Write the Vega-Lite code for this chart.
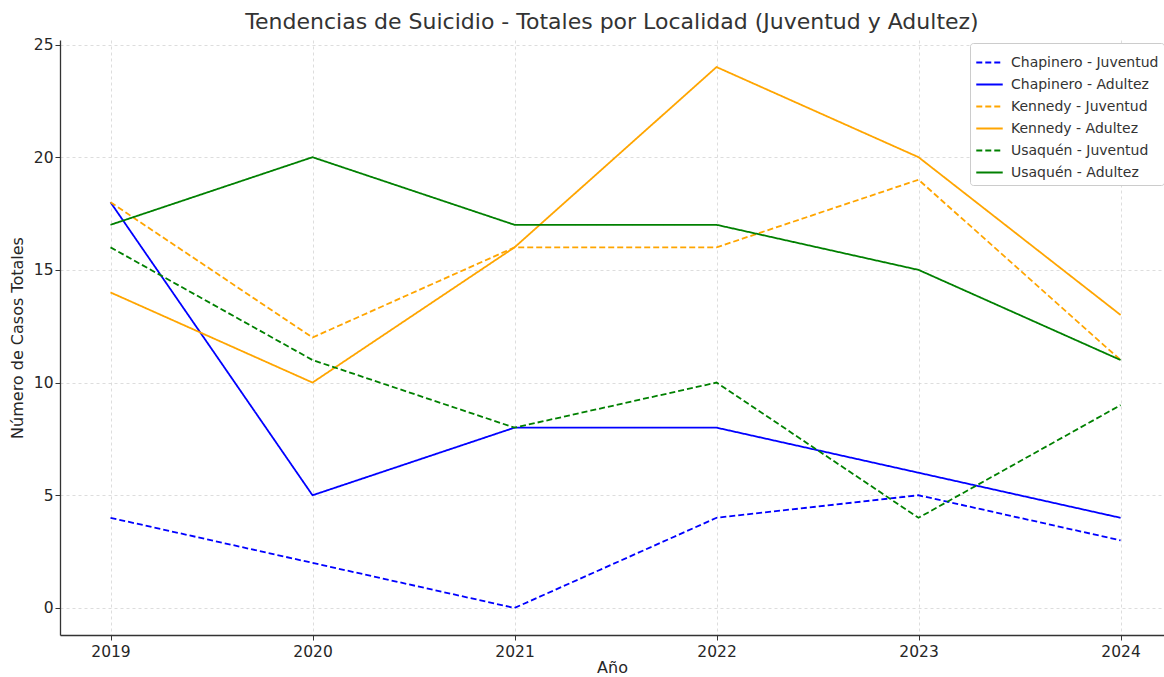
{
  "$schema": "https://vega.github.io/schema/vega-lite/v6.json",
  "width": 1104,
  "height": 595,
  "autosize": {"type": "none"},
  "padding": {"left": 60, "top": 40, "right": 0, "bottom": 42},
  "background": "white",
  "title": {"text": "Tendencias de Suicidio - Totales por Localidad (Juventud y Adultez)", "font": "DejaVu Sans", "fontSize": 22, "fontWeight": "normal", "color": "#333333", "offset": 4, "anchor": "middle"},
  "config": {
    "font": "DejaVu Sans",
    "view": {"stroke": null},
    "axis": {"labelFont": "DejaVu Sans", "titleFont": "DejaVu Sans", "labelFontSize": 15.5, "titleFontSize": 16, "titleFontWeight": "normal", "labelColor": "#262626", "titleColor": "#262626", "domainColor": "#333333", "domainWidth": 1.3, "tickColor": "#333333", "tickSize": 5, "gridColor": "#d4d4d4", "gridDash": [3, 3], "gridWidth": 0.8}
  },
  "data": {"values": [
    {"anio": 2019, "serie": "Chapinero - Juventud", "casos": 4},
    {"anio": 2020, "serie": "Chapinero - Juventud", "casos": 2},
    {"anio": 2021, "serie": "Chapinero - Juventud", "casos": 0},
    {"anio": 2022, "serie": "Chapinero - Juventud", "casos": 4},
    {"anio": 2023, "serie": "Chapinero - Juventud", "casos": 5},
    {"anio": 2024, "serie": "Chapinero - Juventud", "casos": 3},
    {"anio": 2019, "serie": "Chapinero - Adultez", "casos": 18},
    {"anio": 2020, "serie": "Chapinero - Adultez", "casos": 5},
    {"anio": 2021, "serie": "Chapinero - Adultez", "casos": 8},
    {"anio": 2022, "serie": "Chapinero - Adultez", "casos": 8},
    {"anio": 2023, "serie": "Chapinero - Adultez", "casos": 6},
    {"anio": 2024, "serie": "Chapinero - Adultez", "casos": 4},
    {"anio": 2019, "serie": "Kennedy - Juventud", "casos": 18},
    {"anio": 2020, "serie": "Kennedy - Juventud", "casos": 12},
    {"anio": 2021, "serie": "Kennedy - Juventud", "casos": 16},
    {"anio": 2022, "serie": "Kennedy - Juventud", "casos": 16},
    {"anio": 2023, "serie": "Kennedy - Juventud", "casos": 19},
    {"anio": 2024, "serie": "Kennedy - Juventud", "casos": 11},
    {"anio": 2019, "serie": "Kennedy - Adultez", "casos": 14},
    {"anio": 2020, "serie": "Kennedy - Adultez", "casos": 10},
    {"anio": 2021, "serie": "Kennedy - Adultez", "casos": 16},
    {"anio": 2022, "serie": "Kennedy - Adultez", "casos": 24},
    {"anio": 2023, "serie": "Kennedy - Adultez", "casos": 20},
    {"anio": 2024, "serie": "Kennedy - Adultez", "casos": 13},
    {"anio": 2019, "serie": "Usaquén - Juventud", "casos": 16},
    {"anio": 2020, "serie": "Usaquén - Juventud", "casos": 11},
    {"anio": 2021, "serie": "Usaquén - Juventud", "casos": 8},
    {"anio": 2022, "serie": "Usaquén - Juventud", "casos": 10},
    {"anio": 2023, "serie": "Usaquén - Juventud", "casos": 4},
    {"anio": 2024, "serie": "Usaquén - Juventud", "casos": 9},
    {"anio": 2019, "serie": "Usaquén - Adultez", "casos": 17},
    {"anio": 2020, "serie": "Usaquén - Adultez", "casos": 20},
    {"anio": 2021, "serie": "Usaquén - Adultez", "casos": 17},
    {"anio": 2022, "serie": "Usaquén - Adultez", "casos": 17},
    {"anio": 2023, "serie": "Usaquén - Adultez", "casos": 15},
    {"anio": 2024, "serie": "Usaquén - Adultez", "casos": 11}
  ]},
  "mark": {"type": "line", "strokeWidth": 1.8, "clip": true},
  "encoding": {
    "x": {"field": "anio", "type": "quantitative", "title": "Año",
      "scale": {"domain": [2018.75, 2024.215], "nice": false, "zero": false},
      "axis": {"values": [2019, 2020, 2021, 2022, 2023, 2024], "format": "d", "labelPadding": 4, "titlePadding": 0}},
    "y": {"field": "casos", "type": "quantitative", "title": "Número de Casos Totales",
      "scale": {"domain": [-1.2, 25.2], "nice": false, "zero": false},
      "axis": {"values": [0, 5, 10, 15, 20, 25], "labelPadding": 2, "titlePadding": 8}},
    "color": {"field": "serie", "type": "nominal",
      "scale": {"domain": ["Chapinero - Juventud", "Chapinero - Adultez", "Kennedy - Juventud", "Kennedy - Adultez", "Usaquén - Juventud", "Usaquén - Adultez"],
        "range": ["#0000ff", "#0000ff", "#ffa500", "#ffa500", "#008000", "#008000"]},
      "legend": {"title": null, "orient": "none", "legendX": 910, "legendY": 3, "symbolType": "stroke", "symbolSize": 700, "symbolStrokeWidth": 2, "labelFontSize": 14, "labelFont": "DejaVu Sans", "labelColor": "#333333", "rowPadding": -6.5, "padding": 5, "strokeColor": "#cccccc", "fillColor": "white", "cornerRadius": 3, "labelOffset": 7}},
    "strokeDash": {"field": "serie", "type": "nominal",
      "scale": {"domain": ["Chapinero - Juventud", "Chapinero - Adultez", "Kennedy - Juventud", "Kennedy - Adultez", "Usaquén - Juventud", "Usaquén - Adultez"],
        "range": [[6, 3], [1, 0], [6, 3], [1, 0], [6, 3], [1, 0]]},
      "legend": {"title": null, "orient": "none", "legendX": 910, "legendY": 3, "symbolType": "stroke", "symbolSize": 700, "symbolStrokeWidth": 2, "labelFontSize": 14, "labelFont": "DejaVu Sans", "labelColor": "#333333", "rowPadding": -6.5, "padding": 5, "strokeColor": "#cccccc", "fillColor": "white", "cornerRadius": 3, "labelOffset": 7}}
  }
}
